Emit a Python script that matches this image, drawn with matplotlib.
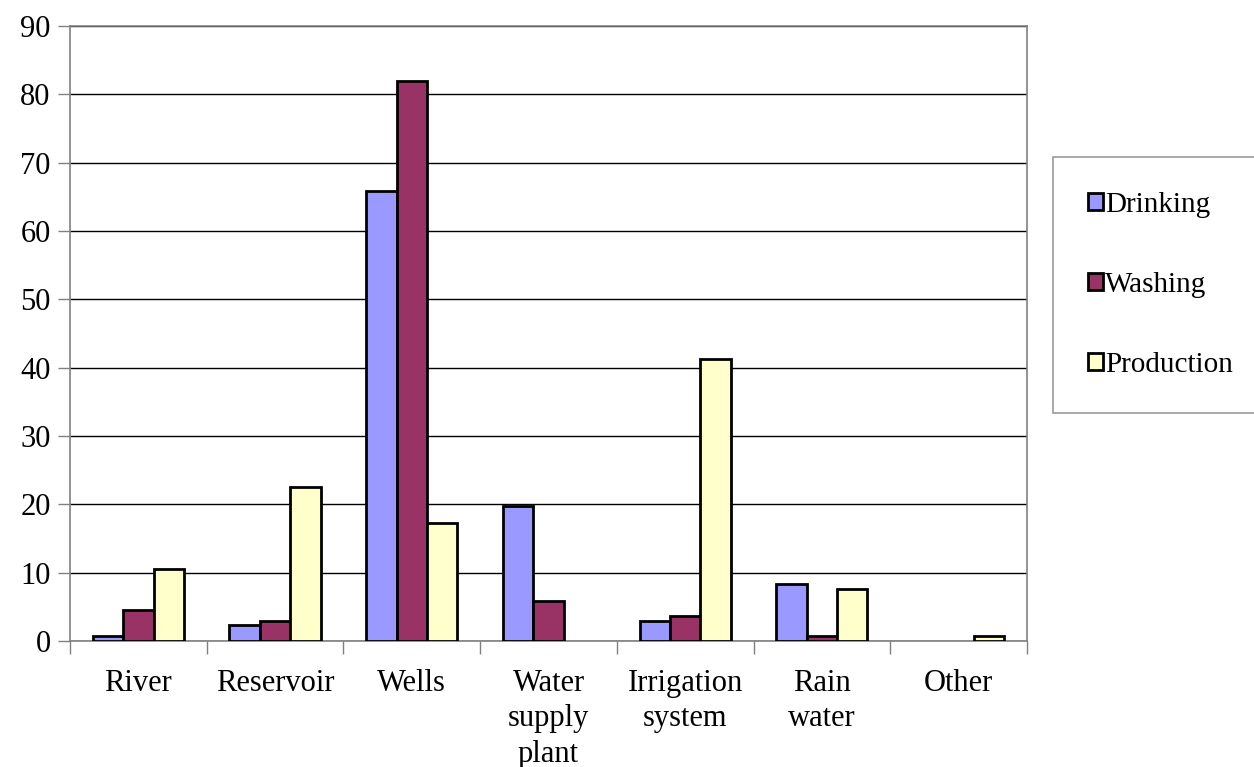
import numpy as np
import matplotlib.pyplot as plt

plt.rcParams['font.family'] = ['Liberation Serif', 'DejaVu Serif']

sources = ['River', 'Reservoir', 'Wells', 'Water\nsupply\nplant',
           'Irrigation\nsystem', 'Rain\nwater', 'Other']
drinking = [0.8, 2.3, 65.8, 19.7, 3.0, 8.3, 0.0]
washing = [4.5, 3.0, 82.0, 5.9, 3.7, 0.8, 0.0]
production = [10.5, 22.6, 17.2, 0.0, 41.3, 7.6, 0.8]

series = [('Drinking', drinking, '#9999FF'),
          ('Washing', washing, '#993366'),
          ('Production', production, '#FFFFCC')]

fig = plt.figure(figsize=(12.54, 7.67), dpi=100)
ax = fig.add_axes([70 / 1254, 1 - 641 / 767, 957 / 1254, 615 / 767])

x = np.arange(len(sources))
w = 2 / 9
for i, (name, vals, col) in enumerate(series):
    v = np.array(vals)
    keep = v > 0
    ax.bar(x[keep] + (i - 1) * w, v[keep], width=w, color=col,
           edgecolor='black', linewidth=2, label=name, zorder=3)

ax.set_xlim(-0.5, len(sources) - 0.5)
ax.set_ylim(0, 90)
ax.set_yticks(range(0, 91, 10))
ax.yaxis.grid(True, color='black', linewidth=1)
ax.set_axisbelow(True)

# category boundaries get the tick marks, names sit between them
ax.set_xticks(np.arange(len(sources) + 1) - 0.5)
ax.set_xticklabels([])
ax.set_xticks(x, minor=True)
ax.set_xticklabels(sources, minor=True, fontsize=22, linespacing=1.3)
ax.tick_params(axis='x', which='minor', length=0, pad=20)
ax.tick_params(axis='x', which='major', length=9, width=1, color='#808080')
ax.tick_params(axis='y', length=9, width=1, color='#808080', labelsize=22, pad=5)

for s in ax.spines.values():
    s.set_color('#808080')
    s.set_linewidth(1.2)

leg = fig.legend(loc='center left', bbox_to_anchor=(1053 / 1254, 1 - 285 / 767),
                 fontsize=21, frameon=True, fancybox=False, edgecolor='#808080',
                 handlelength=0.5, handleheight=0.5, handletextpad=0.08,
                 labelspacing=1.85, borderpad=1.2, borderaxespad=0)
leg.get_frame().set_linewidth(1.2)

fig.savefig('out.png', dpi=100)
